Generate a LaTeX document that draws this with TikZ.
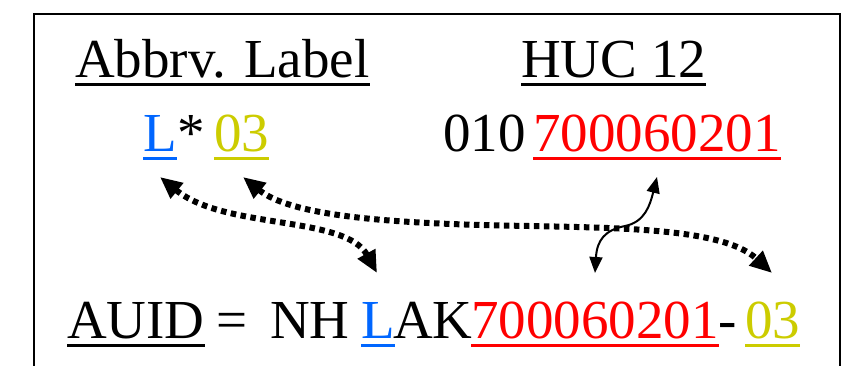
\documentclass[tikz,border=0pt]{standalone}
\usepackage{fontspec}
\setmainfont{Liberation Serif}
\usetikzlibrary{arrows.meta}
\definecolor{lblue}{RGB}{0,102,255}
\definecolor{lyellow}{RGB}{204,204,0}
\definecolor{lred}{RGB}{255,0,0}
\begin{document}
\begin{tikzpicture}[x=1pt,y=-1pt,
  txt/.style={inner sep=0pt, anchor=base west, font=\fontsize{55}{60}\selectfont},
  ul/.style={line width=3pt},
  frame/.style={line width=2pt},
  dotarrow/.style={line width=6pt, dash pattern=on 5.5pt off 4.5pt,
    {Triangle[length=22pt,width=19pt]}-{Triangle[length=22pt,width=19pt]}},
  solarrow/.style={line width=2pt,
    {Triangle[length=16pt,width=13pt]}-{Triangle[length=16pt,width=13pt]}}]
\useasboundingbox (0,0) rectangle (864,366);
\draw[frame] (34,366) -- (34,14) -- (840,14) -- (840,366);

% row 1
\node[txt] (abbr) at (75,78) {Abbrv. Label};
\node[txt] (huc) at (521,78) {HUC 12};
% row 2
\node[txt,text=lblue] (lL) at (143,152) {L};
\node[txt] (star) at (177,152) {*};
\node[txt,text=lyellow] (l03) at (214,152) {03};
\node[txt] (h010) at (443,152) {010};
\node[txt,text=lred] (hred) at (533,152) {700060201};
% row 3
\node[txt] (auid) at (67,338) {AUID};
\node[txt] (eq) at (216,338) {=};
\node[txt] (nh) at (270,338) {NH};
\node[txt,text=lblue] (aL) at (361,338) {L};
\node[txt] (ak) at (393,338) {AK};
\node[txt,text=lred] (ared) at (471,338) {700060201};
\node[txt] (dash) at (718,338) {-};
\node[txt,text=lyellow] (a03) at (745,338) {03};

% underlines
\foreach \n/\c in {abbr/black,huc/black,lL/lblue,l03/lyellow,hred/lred,auid/black,aL/lblue,ared/lred,a03/lyellow}
  \draw[ul,draw=\c] ([yshift=-7pt]\n.base west) -- ([yshift=-7pt]\n.base east);

% arrow end points
\coordinate (p1) at (160,177);
\coordinate (p2) at (377,273);
\coordinate (q1) at (243,177);
\coordinate (q2) at (772,273);
\coordinate (r1) at (657,177);
\coordinate (r2) at (595,273);

\draw[dotarrow] (p1) .. controls (225,230) and (345,215) .. (p2);
\draw[dotarrow] (q1) .. controls (290,215) and (380,222) .. (480,225)
                     .. controls (600,228) and (720,225) .. (q2);
\draw[solarrow] (r2) .. controls (597,240) and (605,230) .. (625,226)
                     .. controls (645,222) and (650,205) .. (r1);
\end{tikzpicture}
\end{document}
